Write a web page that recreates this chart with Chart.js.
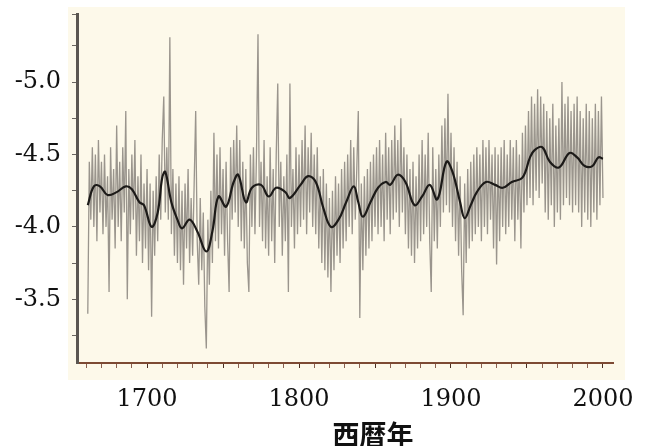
<!DOCTYPE html>
<html>
<head>
<meta charset="utf-8">
<script src="https://cdn.jsdelivr.net/npm/chart.js@4"></script>
<style>
  html, body { margin: 0; padding: 0; background: #ffffff; }
  #wrap { position: relative; width: 650px; height: 446px; overflow: hidden; }
  #xtitle {
    position: absolute; left: 332px; top: 420px; width: 82px;
    text-align: center; font: bold 27px "Noto Sans CJK JP", sans-serif;
    line-height: 1; color: #111;
  }
</style>
</head>
<body>
<div id="wrap">
  <canvas id="chart" width="650" height="446"></canvas>
  <div id="xtitle">西暦年</div>
</div>
<script>
// 年ごとの値 (1661年から)
const firstYear = 1661;
const annual = [
  -3.40, -4.45, -4.05, -4.55, -4.00, -4.50, -3.90, -4.60, -4.10, -4.45,
  -3.95, -4.50, -4.00, -4.35, -3.55, -4.55, -4.05, -4.40, -3.85, -4.70,
  -4.00, -4.45, -3.90, -4.55, -4.10, -4.80, -3.50, -4.40, -3.95, -4.50,
  -4.05, -4.60, -3.80, -4.35, -3.90, -4.50, -3.75, -4.30, -3.85, -4.40,
  -3.70, -4.30, -3.38, -4.25, -3.80, -4.35, -3.90, -4.50, -4.05, -4.60,
  -4.90, -4.10, -4.55, -4.05, -5.31, -3.95, -4.40, -3.80, -4.30, -3.75,
  -4.35, -3.70, -4.25, -3.60, -4.30, -3.85, -4.40, -3.75, -4.20, -3.80,
  -4.30, -4.80, -3.90, -3.60, -4.20, -3.70, -4.10, -3.45, -3.16, -4.05,
  -3.60, -4.25, -3.75, -4.65, -3.90, -4.50, -3.85, -4.55, -3.95, -4.40,
  -3.80, -4.45, -3.90, -3.55, -4.55, -4.05, -4.60, -4.10, -4.70, -4.00,
  -4.60, -3.90, -4.45, -3.85, -4.40, -3.75, -3.55, -4.50, -4.00, -4.55,
  -3.95, -4.50, -5.33, -4.00, -4.45, -3.90, -4.60, -3.85, -4.35, -3.80,
  -4.55, -3.90, -4.40, -3.75, -4.50, -4.99, -4.00, -4.45, -3.80, -4.35,
  -3.90, -4.50, -3.55, -4.99, -4.00, -4.40, -3.85, -4.55, -3.95, -4.50,
  -4.00, -4.60, -4.05, -4.70, -3.95, -4.55, -4.10, -4.65, -4.00, -4.50,
  -3.95, -4.55, -3.85, -4.35, -3.75, -4.40, -3.70, -4.30, -3.65, -4.20,
  -3.55, -4.25, -3.70, -4.35, -3.80, -4.30, -3.75, -4.40, -3.85, -4.45,
  -3.90, -4.50, -4.00, -4.60, -3.95, -4.55, -4.05, -4.40, -4.80, -3.37,
  -4.30, -3.70, -4.35, -3.80, -4.40, -3.85, -4.45, -3.90, -4.50, -4.00,
  -4.55, -3.95, -4.60, -4.00, -4.50, -3.90, -4.65, -4.05, -4.55, -3.95,
  -4.60, -4.05, -4.70, -4.10, -4.60, -4.00, -4.75, -4.10, -4.55, -3.95,
  -4.50, -3.85, -4.40, -3.80, -4.45, -3.75, -4.35, -3.85, -4.50, -3.90,
  -4.60, -3.95, -4.50, -4.00, -4.65, -3.90, -3.55, -4.55, -3.90, -4.40,
  -3.85, -4.50, -4.00, -4.70, -4.10, -4.75, -4.15, -4.92, -4.10, -4.65,
  -4.00, -4.55, -3.90, -4.45, -3.80, -4.35, -3.70, -3.39, -4.30, -3.75,
  -4.40, -3.85, -4.45, -3.90, -4.50, -3.95, -4.55, -4.00, -4.50, -3.90,
  -4.60, -4.00, -4.55, -3.95, -4.60, -4.05, -4.50, -3.85, -4.55, -3.74,
  -4.50, -3.90, -4.55, -4.00, -4.60, -3.95, -4.50, -4.00, -4.60, -4.05,
  -4.55, -3.90, -4.60, -4.05, -4.50, -3.85, -4.65, -4.10, -4.70, -4.15,
  -4.80, -4.20, -4.90, -4.15, -4.85, -4.25, -4.95, -4.20, -4.90, -4.30,
  -4.85, -4.10, -4.80, -4.05, -4.75, -4.15, -4.85, -4.00, -4.70, -4.10,
  -4.75, -4.05, -5.00, -4.15, -4.85, -4.20, -4.90, -4.15, -4.80, -4.10,
  -4.85, -4.15, -4.90, -4.10, -4.80, -4.00, -4.75, -4.10, -4.85, -4.05,
  -4.80, -4.00, -4.75, -4.10, -4.85, -4.05, -4.80, -4.15, -4.90, -4.20
];

// 平滑曲線
const smoothYears = [1661, 1665, 1669, 1674, 1680, 1686, 1690, 1695, 1698, 1703,
  1707, 1710, 1712, 1716, 1720, 1723, 1728, 1733, 1739, 1743,
  1747, 1752, 1757, 1760, 1765, 1769, 1775, 1780, 1785, 1791,
  1794, 1801, 1806, 1811, 1816, 1821, 1826, 1831, 1836, 1839,
  1842, 1847, 1852, 1857, 1860, 1865, 1870, 1876, 1881, 1886,
  1891, 1897, 1901, 1906, 1909, 1913, 1917, 1923, 1929, 1934,
  1940, 1947, 1952, 1955, 1960, 1965, 1971, 1978, 1983, 1988,
  1993, 1997, 2000];
const smoothValues = [-4.15, -4.28, -4.28, -4.22, -4.24, -4.28, -4.26, -4.17, -4.15, -4.00,
  -4.10, -4.34, -4.38, -4.17, -4.05, -3.99, -4.05, -3.97, -3.83, -3.97,
  -4.21, -4.14, -4.31, -4.36, -4.17, -4.27, -4.29, -4.21, -4.27, -4.24,
  -4.20, -4.29, -4.35, -4.31, -4.13, -4.00, -4.05, -4.17, -4.28, -4.17,
  -4.07, -4.17, -4.27, -4.31, -4.29, -4.36, -4.31, -4.15, -4.21, -4.29,
  -4.19, -4.45, -4.38, -4.17, -4.06, -4.15, -4.24, -4.31, -4.29, -4.27,
  -4.31, -4.34, -4.48, -4.53, -4.55, -4.45, -4.41, -4.51, -4.48, -4.42,
  -4.42, -4.48, -4.47];

// 目盛り
const xTicks = [1660, 1670, 1680, 1690, 1700, 1710, 1720, 1730, 1740, 1750,
  1760, 1770, 1780, 1790, 1800, 1810, 1820, 1830, 1840, 1850,
  1860, 1870, 1880, 1890, 1900, 1910, 1920, 1930, 1940, 1950,
  1960, 1970, 1980, 1990, 2000];
const xLabels = [1700, 1800, 1900, 2000];
const yTicks = [-5.47, -5.25, -5.0, -4.75, -4.5, -4.25, -4.0, -3.75, -3.5, -3.25];
const yLabels = [-5.0, -4.5, -4.0, -3.5];

const annualPoints = annual.map((v, i) => ({x: firstYear + i, y: v}));
const smoothPoints = smoothYears.map((yr, i) => ({x: yr, y: smoothValues[i]}));

// クリーム色の背景
const paper = {
  id: 'paper',
  beforeDraw(chart) {
    const {ctx, chartArea: a} = chart;
    ctx.save();
    ctx.fillStyle = '#fdf9ea';
    ctx.fillRect(a.left - 9, a.top - 7, a.right - a.left + 21, a.bottom - a.top + 24);
    ctx.restore();
  }
};

const serif = {family: '"DejaVu Serif", serif', size: 24};

new Chart(document.getElementById('chart'), {
  type: 'line',
  data: {
    datasets: [
      {
        data: smoothPoints,
        borderColor: '#1c1a18',
        borderWidth: 2.2,
        pointRadius: 0,
        tension: 0.4
      },
      {
        data: annualPoints,
        borderColor: 'rgba(120, 115, 110, 0.75)',
        borderWidth: 1.3,
        pointRadius: 0,
        tension: 0
      }
    ]
  },
  options: {
    responsive: false,
    animation: false,
    layout: {padding: {top: 14, right: 37, left: 0, bottom: 0}},
    plugins: {legend: {display: false}, tooltip: {enabled: false}},
    scales: {
      x: {
        type: 'linear',
        min: 1653.9,
        max: 2006.6,
        afterBuildTicks(scale) { scale.ticks = xTicks.map(v => ({value: v})); },
        afterFit(scale) {
          scale.height = 83;
          scale.paddingLeft = 0;
          scale.paddingRight = 0;
        },
        border: {color: '#7d4a33', width: 2},
        grid: {
          drawOnChartArea: false,
          tickLength: 5,
          tickColor: ctx => (ctx.tick && ctx.tick.value % 50 === 0) ? '#4a2e22' : '#8a6050'
        },
        ticks: {
          autoSkip: false,
          maxRotation: 0,
          padding: 17,
          color: '#111',
          font: serif,
          callback: v => xLabels.includes(Math.round(v)) ? String(Math.round(v)) : ''
        }
      },
      y: {
        reverse: true,
        min: -5.47,
        max: -3.06,
        afterBuildTicks(scale) { scale.ticks = yTicks.map(v => ({value: v})); },
        afterFit(scale) {
          scale.width = 77;
          scale.paddingTop = 0;
          scale.paddingBottom = 0;
        },
        border: {color: '#5b5651', width: 3},
        grid: {drawOnChartArea: false, tickLength: 5, tickColor: '#6b6660'},
        ticks: {
          autoSkip: false,
          padding: 11,
          color: '#111',
          font: serif,
          callback: v => yLabels.some(l => Math.abs(l - v) < 1e-6) ? v.toFixed(1) : ''
        }
      }
    }
  },
  plugins: [paper]
});
</script>
</body>
</html>
